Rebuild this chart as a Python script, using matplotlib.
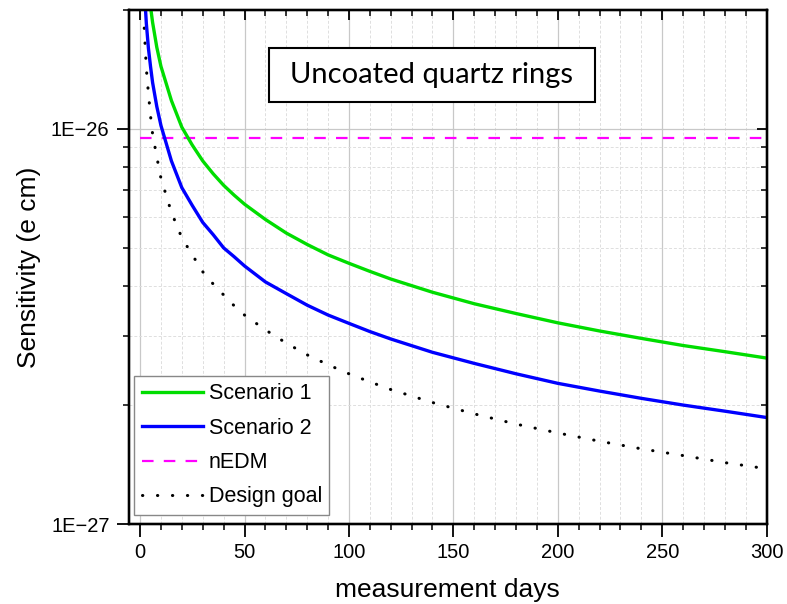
import matplotlib
matplotlib.use("Agg")
import matplotlib.pyplot as plt
from matplotlib.ticker import MultipleLocator, FixedLocator, NullFormatter
from matplotlib.patches import Rectangle

# ---- data ----
days = [2, 3, 4, 5, 6, 8, 10, 15, 20, 25, 30, 35, 40, 45, 50, 60, 70, 80, 90, 100,
        110, 120, 140, 160, 180, 200, 220, 240, 260, 280, 300]
scenario1 = [32.0, 26.3, 22.8, 20.4, 18.6, 16.1, 14.4, 11.8, 10.1, 9.1, 8.3, 7.7, 7.2,
             6.8, 6.45, 5.9, 5.45, 5.1, 4.8, 4.57,
             4.36, 4.17, 3.86, 3.61, 3.41, 3.23, 3.08, 2.95, 2.83, 2.73, 2.63]
scenario2 = [22.7, 18.5, 16.0, 14.4, 13.1, 11.4, 10.2, 8.3, 7.1, 6.4, 5.8, 5.4, 5.0,
             4.75, 4.5, 4.1, 3.83, 3.58, 3.38, 3.22,
             3.07, 2.94, 2.72, 2.55, 2.40, 2.27, 2.17, 2.08, 2.00, 1.93, 1.86]
design_goal = [18.0, 14.2, 12.3, 10.8, 9.7, 8.5, 7.5, 6.15, 5.3, 4.8, 4.35, 4.05, 3.8,
               3.57, 3.38, 3.1, 2.87, 2.68, 2.53, 2.40,
               2.29, 2.19, 2.03, 1.90, 1.79, 1.70, 1.62, 1.55, 1.49, 1.43, 1.38]
scale = 1e-27
nedm_days = [0, 300]
nedm_value = 9.5e-27

series_labels = ["Scenario 1", "Scenario 2", "nEDM", "Design goal"]
title_text = "Uncoated quartz rings"
xlabel = "measurement days"
ylabel = "Sensitivity (e cm)"
xticks = [0, 50, 100, 150, 200, 250, 300]
yticks = [1e-27, 1e-26]
ytick_labels = ["1E\u221227", "1E\u221226"]

plt.rcParams['font.family'] = ['Liberation Sans', 'DejaVu Sans']

W, H = 787, 604
fig = plt.figure(figsize=(W / 100, H / 100), dpi=100)
L, R, T, B = 129, 766.7, 10, 524
ax = fig.add_axes([L / W, 1 - B / H, (R - L) / W, (B - T) / H])

ax.set_yscale('log')
xlim = (-5.3, 300)
ylim = (1e-27, 2.0e-26)

s1 = [v * scale for v in scenario1]
s2 = [v * scale for v in scenario2]
dg = [v * scale for v in design_goal]

ax.plot(days, s1, color='#00dd00', lw=2.4, label=series_labels[0], zorder=4)
ax.plot(days, s2, color='#0000ff', lw=2.4, label=series_labels[1], zorder=4)
ax.plot(nedm_days, [nedm_value] * 2, color='#ff00ff', lw=1.6,
        linestyle=(0, (5.2, 4.6)), label=series_labels[2], zorder=3)
ax.plot(days, dg, color='black', lw=2.2, linestyle=(0, (0.1, 4.8)),
        dash_capstyle='round', label=series_labels[3], zorder=3)

ax.set_xlim(*xlim)
ax.set_ylim(*ylim)

# ticks
ax.xaxis.set_major_locator(FixedLocator(xticks))
ax.xaxis.set_minor_locator(MultipleLocator(10))
ax.set_xticklabels([str(t) for t in xticks])
ax.yaxis.set_major_locator(FixedLocator(yticks))
ax.set_yticklabels(ytick_labels)
ax.yaxis.set_minor_locator(FixedLocator([k * 1e-27 for k in range(2, 10)] + [2e-26]))
ax.yaxis.set_minor_formatter(NullFormatter())
ax.tick_params(which='major', direction='out', length=9, width=1.3, labelsize=14.5, pad=5)
ax.tick_params(which='minor', direction='out', length=4.5, width=1.1)

# grids
ax.grid(which='major', color='#c8c8c8', lw=0.9, linestyle='-', zorder=0)
ax.grid(which='minor', color='#dedede', lw=0.7, linestyle=(0, (3, 2)), zorder=0)
ax.set_axisbelow(True)

for sp in ax.spines.values():
    sp.set_linewidth(1.6)

# top/right inward ticks
axt = ax.twiny()
axt.set_xlim(*xlim)
axt.xaxis.set_major_locator(FixedLocator(xticks))
axt.xaxis.set_minor_locator(MultipleLocator(10))
axt.tick_params(which='major', direction='in', length=7, width=1.3, labeltop=False)
axt.tick_params(which='minor', direction='in', length=4.5, width=1.1)
axr = ax.twinx()
axr.set_yscale('log')
axr.set_ylim(*ylim)
axr.yaxis.set_major_locator(FixedLocator(yticks))
axr.yaxis.set_minor_locator(FixedLocator([k * 1e-27 for k in range(2, 10)] + [2e-26]))
axr.yaxis.set_minor_formatter(NullFormatter())
axr.tick_params(which='major', direction='in', length=7, width=1.3, labelright=False)
axr.tick_params(which='minor', direction='in', length=4.5, width=1.1)
for a in (axt, axr):
    for sp in a.spines.values():
        sp.set_linewidth(1.6)

ax.set_xlabel(xlabel, fontsize=19, labelpad=11)
ax.set_ylabel(ylabel, fontsize=19, labelpad=7)

# title box
ax.add_patch(Rectangle((0.2195, 0.821), 0.511, 0.105, transform=ax.transAxes,
                       facecolor='white', edgecolor='black', lw=1.5, zorder=6))
ax.text(0.475, 0.8735, title_text, transform=ax.transAxes, ha='center', va='center',
        fontsize=21, family=['Lato', 'DejaVu Sans'], zorder=7)

leg = ax.legend(loc='lower left', bbox_to_anchor=(0.0083, 0.0175), borderaxespad=0,
                fontsize=15.5, handlelength=2.85, handletextpad=0.25, labelspacing=0.62,
                borderpad=0.35, fancybox=False, framealpha=1, edgecolor='#888888')
leg.get_frame().set_linewidth(1.0)
leg.set_zorder(8)

fig.savefig('out.png', dpi=100)
